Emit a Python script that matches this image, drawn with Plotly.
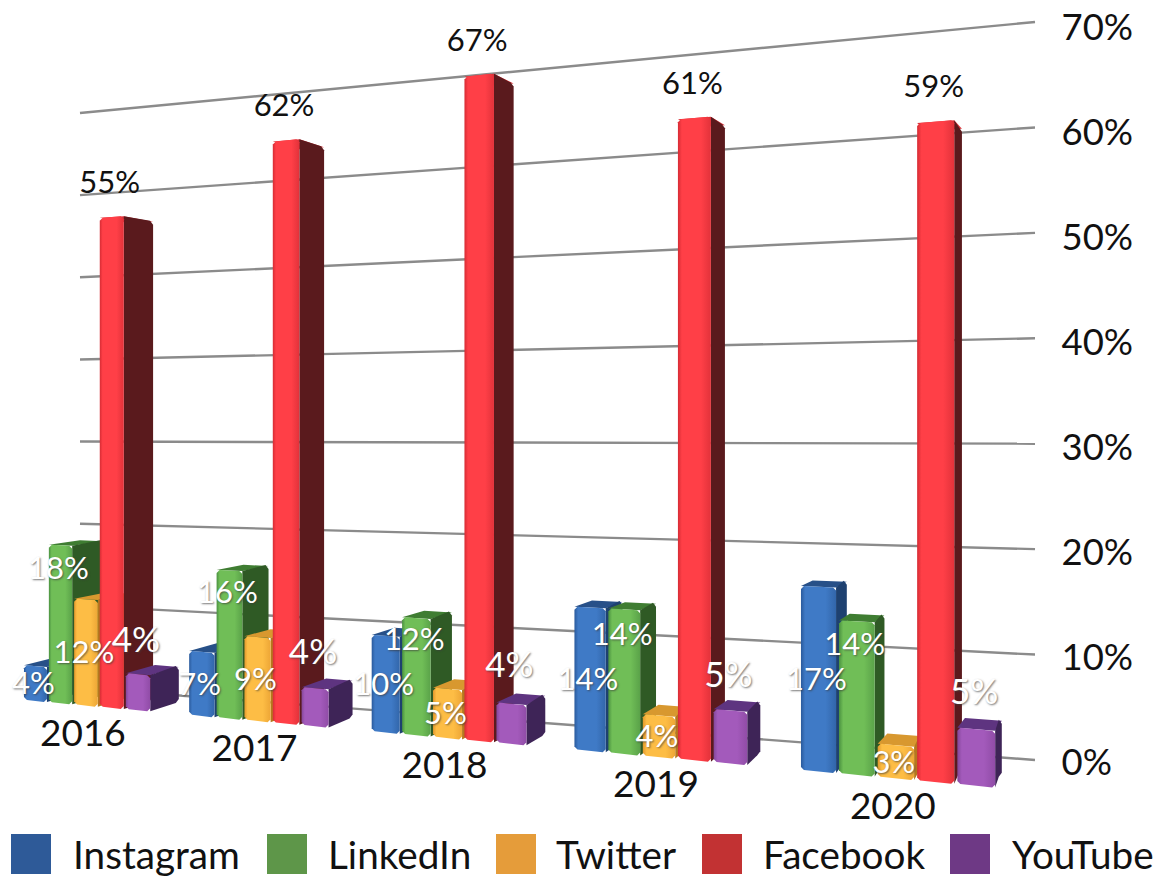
import plotly.graph_objects as go

# ---------- data ----------
years = ["2016", "2017", "2018", "2019", "2020"]
series = ["Instagram", "LinkedIn", "Twitter", "Facebook", "YouTube"]
instagram = [4, 7, 10, 14, 17]
linkedin = [18, 16, 12, 14, 14]
twitter = [12, 9, 5, 4, 3]
facebook = [55, 62, 67, 61, 59]
youtube = [4, 4, 4, 5, 5]
axis_ticks = [0, 10, 20, 30, 40, 50, 60, 70]
axis_labels = ["0%", "10%", "20%", "30%", "40%", "50%", "60%", "70%"]
values = [instagram, linkedin, twitter, facebook, youtube]

# ---------- styles ----------
FONT = "Lato, Carlito, 'Open Sans', sans-serif"
front_cols = {
    "Instagram": ("#2a5a9c", "#3f7ac6", "#3266aa"),
    "LinkedIn": ("#4a9140", "#70be57", "#5aa249"),
    "Twitter": ("#e2982c", "#fdbd45", "#eda636"),
    "Facebook": ("#d62c34", "#ff3f47", "#e2323a"),
    "YouTube": ("#84479a", "#a35abb", "#904ca7"),
}
side_cols = {"Instagram": "#1e4170", "LinkedIn": "#2f5a25", "Twitter": "#b5781e",
             "Facebook": "#5a1a1d", "YouTube": "#3e2457"}
top_cols = {"Instagram": "#275088", "LinkedIn": "#3f7d32", "Twitter": "#d8982f",
            "Facebook": "#d9343a", "YouTube": "#5e3480"}
legend_cols = {"Instagram": "#2e5a98", "LinkedIn": "#5e9649", "Twitter": "#e59c3a",
               "Facebook": "#c23233", "YouTube": "#6e3985"}

# ---------- scene projection (value -> picture plane) ----------
SLOT, BAR = 0.157, 0.145
label_lift = {"Instagram": [0] * 5, "LinkedIn": [6.4, 5.6, 3.8, 4.6, 4.9],
              "Twitter": [0] * 5, "YouTube": [5.8] * 5}

def depth_x(u):
    return -3288 + 69717 / (21.05 - u)

def front_y(x, v):
    return 701 + 0.09 * (x - 35) - v * (8.93 + 0.00275 * (x - 113))

def back(x, y):
    return x + 0.026 * (1250 - x), y + 0.03 * (400 - y)

def wall_y(x, v):
    t = (x - 80) / 955
    y0 = 688 + 72 * t
    y70 = 113 - 91 * t
    return y0 + (y70 - y0) * v / 70

fig = go.Figure()

# gridlines on the back wall
for v in axis_ticks:
    fig.add_trace(go.Scatter(x=[80, 1035], y=[wall_y(80, v), wall_y(1035, v)], mode="lines",
                             line=dict(color="#8b8b8b", width=2.4), hoverinfo="skip", showlegend=False))

def poly(xs, ys, color=None, grad=None):
    kw = dict(fillcolor=color) if color else dict(fillgradient=grad)
    fig.add_trace(go.Scatter(x=xs + xs[:1], y=ys + ys[:1], mode="lines", fill="toself",
                             line=dict(width=0), hoverinfo="skip", showlegend=False, **kw))

# bars
for g, yr in enumerate(years):
    for s, name in enumerate(series):
        v = values[s][g]
        u = g + SLOT * s
        xl, xr = depth_x(u), depth_x(u + BAR)
        ylb, yrb = front_y(xl, 0), front_y(xr, 0)
        ylt, yrt = front_y(xl, v), front_y(xr, v)
        bx_rt, by_rt = back(xr, yrt)
        bx_lt, by_lt = back(xl, ylt)
        bx_rb, by_rb = back(xr, yrb)
        c = 3
        # top, side, front
        poly([xl, xr, bx_rt, bx_lt], [ylt, yrt, by_rt, by_lt], color=top_cols[name])
        poly([xr, bx_rt - c, bx_rt, bx_rb, bx_rb - c, xr],
             [yrt, by_rt - 1, by_rt + c, by_rb - c, by_rb + 1, yrb], color=side_cols[name])
        a, b, d = front_cols[name]
        grad = dict(type="horizontal",
                    colorscale=[[0, a], [0.12, b], [0.7, b], [1, d]])
        poly([xl, xl + c, xr - c, xr, xr, xr - c, xl + c, xl],
             [ylt + c, ylt, yrt, yrt + c, yrb - c, yrb, ylb, ylb - c], grad=grad)

# data labels
for s, name in enumerate(series):
    xs, ys = [], []
    for g in range(len(years)):
        v = values[s][g]
        u = g + SLOT * s + BAR / 2
        x = depth_x(u)
        xs.append(x - 2)
        if name == "Facebook":
            ys.append(front_y(x, v) - 32)
        else:
            ys.append(front_y(x, v / 2 + label_lift[name][g]) + 3)
    black = name == "Facebook"
    fig.add_trace(go.Scatter(
        x=xs, y=ys, mode="text", text=[f"{v}%" for v in values[s]], textposition="middle center",
        textfont=dict(family=FONT, size=35 if name == "YouTube" else 31,
                      color="#111111" if black else "#ffffff",
                      shadow="none" if black else "1px 1px 2px rgba(60,60,60,0.7)"),
        hoverinfo="skip", showlegend=False))

# year labels
xs = [depth_x(g + 2 * SLOT + BAR / 2) for g in range(len(years))]
fig.add_trace(go.Scatter(x=[x - 3 for x in xs], y=[front_y(x, 0) + 31 for x in xs], mode="text", text=years,
                         textposition="middle center", textfont=dict(family=FONT, size=37, color="#111111"),
                         hoverinfo="skip", showlegend=False))

# right-hand value axis
fig.add_trace(go.Scatter(x=[1100] * len(axis_ticks), y=axis_ticks, yaxis="y2", mode="markers",
                         marker=dict(opacity=0, size=1), hoverinfo="skip", showlegend=False))

# legend row
swatch_left = [11, 267, 496, 702, 950]
text_left = [71, 326, 554, 761, 1010]
for i, name in enumerate(series):
    x0, x1 = swatch_left[i], swatch_left[i] + 40
    fig.add_shape(type="rect", x0=x0, x1=x1, y0=834, y1=874, xref="x", yref="y",
                  fillcolor=legend_cols[name], line=dict(width=0))
    fig.add_annotation(x=text_left[i], y=854, text=name, xref="x", yref="y", showarrow=False,
                       xanchor="left", yanchor="middle", font=dict(family=FONT, size=38.7, color="#111111"))

fig.update_layout(
    width=1159, height=878, margin=dict(l=0, r=0, t=0, b=0),
    paper_bgcolor="white", plot_bgcolor="white", showlegend=False,
    xaxis=dict(range=[0, 1159], visible=False, domain=[0, 1]),
    yaxis=dict(range=[878, 0], visible=False, domain=[0, 1]),
    yaxis2=dict(overlaying="y", anchor="free", position=0.915, side="right",
                range=[-11.05, 72.57], tickvals=axis_ticks, ticktext=axis_labels,
                showgrid=False, zeroline=False, showline=False, ticks="",
                tickfont=dict(family=FONT, size=36.5, color="#111111")),
)

fig.write_html("out.html", config=dict(displayModeBar=False),
               post_script="document.body.style.margin='0';document.body.style.overflow='hidden';")
